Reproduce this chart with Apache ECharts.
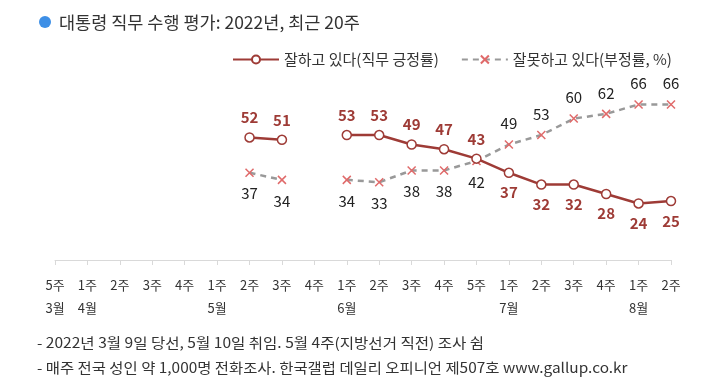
<!DOCTYPE html>
<html><head><meta charset="utf-8">
<script src="https://cdn.jsdelivr.net/npm/echarts@6/dist/echarts.min.js"></script>
<style>html,body{margin:0;padding:0;background:#fff}#c{width:727px;height:390px}</style>
</head><body><div id="c"></div>
<script>
var weeks = ['5주','1주','2주','3주','4주','1주','2주','3주','4주','1주','2주','3주','4주','5주','1주','2주','3주','4주','1주','2주'];
var months = ['3월','4월','','','','5월','','','','6월','','','','','7월','','','','8월',''];
var approval = [null,null,null,null,null,null,52,51,null,53,53,49,47,43,37,32,32,28,24,25];
var disapproval = [null,null,null,null,null,null,37,34,null,34,33,38,38,42,49,53,60,62,66,66];
var seriesNames = ['잘하고 있다(직무 긍정률)','잘못하고 있다(부정률, %)'];
var titleText = '대통령 직무 수행 평가: 2022년, 최근 20주';
var notes = ['- 2022년 3월 9일 당선, 5월 10일 취임. 5월 4주(지방선거 직전) 조사 쉼',
             '- 매주 전국 성인 약 1,000명 전화조사. 한국갤럽 데일리 오피니언 제507호 www.gallup.co.kr'];

var FONT = '"Noto Sans CJK KR", sans-serif';
var cats = weeks.map(function(w,i){ return months[i] ? w + '\n' + months[i] : w; });

function mk(vals, other){
  return vals.map(function(v,i){
    if (v === null) return '-';
    return {value: v, label: {position: v > other[i] ? 'top' : 'bottom'}};
  });
}

var chart = echarts.init(document.getElementById('c'), null, {renderer:'canvas'});
chart.setOption({
  animation:false,
  textStyle:{fontFamily:FONT},
  grid:{left:55, right:56, top:95, bottom:130},
  legend:{
    left:227, top:47, itemWidth:46, itemHeight:10, itemGap:22,
    textStyle:{fontSize:15, color:'#333', fontFamily:FONT},
    data:[{name:seriesNames[0]},{name:seriesNames[1]}]
  },
  xAxis:{
    type:'category', data:cats, boundaryGap:false,
    axisLine:{lineStyle:{color:'#d9d9d9'}},
    axisTick:{show:true, length:5, lineStyle:{color:'#d9d9d9'}},
    axisLabel:{color:'#333', fontSize:13, margin:14, lineHeight:23, interval:0, fontFamily:FONT}
  },
  yAxis:{type:'value', min:0, max:70, show:false, splitLine:{show:false}},
  series:[
    {
      name:seriesNames[0], type:'line', data:mk(approval, disapproval),
      connectNulls:false, symbol:'circle', symbolSize:9, showAllSymbol:true,
      lineStyle:{color:'#9e3b36', width:2.5},
      itemStyle:{color:'#fff', borderColor:'#9e3b36', borderWidth:1.5},
      label:{show:true, color:'#9e3b36', fontSize:15, fontWeight:'bold', distance:7, fontFamily:FONT},
      z:3
    },
    {
      name:seriesNames[1], type:'line', data:mk(disapproval, approval),
      connectNulls:false, symbol:'path://M0,0L10,10M0,10L10,0', symbolSize:8, showAllSymbol:true,
      lineStyle:{color:'#999', width:2.5, type:[6,5]},
      itemStyle:{color:'none', borderColor:'#e06a6a', borderWidth:1.5},
      label:{show:true, color:'#222', fontSize:15, distance:7, fontFamily:FONT},
      z:2
    }
  ],
  graphic:[
    {type:'circle', shape:{cx:45, cy:22, r:6}, style:{fill:'#3d8fe6'}},
    {type:'text', x:59, y:22, style:{text:titleText, fill:'#333', font:'normal 17.5px '+FONT, textVerticalAlign:'middle'}},
    {type:'text', x:37, y:343, scaleX:1.11, style:{text:notes[0], fill:'#333', font:'14px '+FONT, textVerticalAlign:'middle'}},
    {type:'text', x:37, y:368, scaleX:1.1, style:{text:notes[1], fill:'#333', font:'14px '+FONT, textVerticalAlign:'middle'}}
  ]
});
</script></body></html>
